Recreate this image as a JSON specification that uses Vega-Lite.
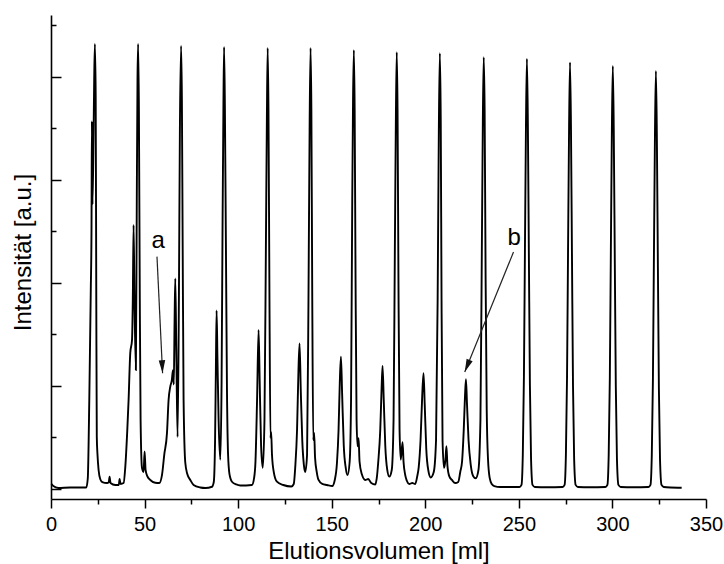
{
  "$schema": "https://vega.github.io/schema/vega-lite/v6.json",
  "width": 655,
  "height": 484,
  "autosize": {"type": "none"},
  "padding": {"left": 51, "top": 15, "right": 18, "bottom": 65},
  "background": "white",
  "config": {"view": {"stroke": null}, "font": "Liberation Sans"},
  "datasets": {
    "trace": [
      {"ml":0.16,"v":0.044},{"ml":1.23,"v":0.024},{"ml":3.9,"v":0.005},{"ml":10.31,"v":0.01},{"ml":18.86,"v":0.01},
      {"ml":19.66,"v":0.10},{"ml":20.46,"v":0.86},{"ml":21.26,"v":1.93},{"ml":21.64,"v":2.51},{"ml":21.85,"v":3.57},
      {"ml":22.17,"v":2.76},{"ml":22.71,"v":3.39},{"ml":23.08,"v":3.97},{"ml":23.45,"v":4.32},{"ml":23.88,"v":3.82},
      {"ml":24.2,"v":1.83},{"ml":24.47,"v":0.50},{"ml":24.84,"v":0.33},{"ml":25.43,"v":0.18},{"ml":26.34,"v":0.09},
      {"ml":27.41,"v":0.063},{"ml":29.92,"v":0.053},{"ml":30.88,"v":0.063},{"ml":31.31,"v":0.115},{"ml":31.79,"v":0.053},
      {"ml":34.35,"v":0.034},{"ml":36.22,"v":0.034},{"ml":36.65,"v":0.092},{"ml":37.19,"v":0.044},{"ml":38.79,"v":0.053},
      {"ml":39.7,"v":0.21},{"ml":40.77,"v":0.57},{"ml":41.46,"v":0.86},{"ml":42.37,"v":1.32},{"ml":43.28,"v":1.44},
      {"ml":43.71,"v":1.83},{"ml":44.13,"v":2.56},{"ml":44.61,"v":1.83},{"ml":45.36,"v":1.15},{"ml":45.84,"v":2.80},
      {"ml":46.22,"v":3.97},{"ml":46.54,"v":4.32},{"ml":46.97,"v":3.68},{"ml":47.45,"v":1.83},{"ml":47.87,"v":0.67},
      {"ml":48.62,"v":0.20},{"ml":49.47,"v":0.16},{"ml":50.01,"v":0.36},{"ml":50.54,"v":0.18},{"ml":51.45,"v":0.12},
      {"ml":53.05,"v":0.083},{"ml":55.72,"v":0.056},{"ml":57.86,"v":0.053},{"ml":59.30,"v":0.13},{"ml":60.53,"v":0.33},
      {"ml":61.98,"v":0.54},{"ml":62.83,"v":0.86},{"ml":63.74,"v":0.99},{"ml":64.54,"v":1.05},{"ml":65.18,"v":1.15},
      {"ml":65.61,"v":1.01},{"ml":66.04,"v":1.64},{"ml":66.41,"v":2.04},{"ml":66.95,"v":1.35},{"ml":67.64,"v":0.50},
      {"ml":68.34,"v":1.83},{"ml":68.87,"v":3.48},{"ml":69.51,"v":4.30},{"ml":69.94,"v":3.78},{"ml":70.37,"v":2.32},
      {"ml":70.85,"v":0.86},{"ml":71.76,"v":0.25},{"ml":72.83,"v":0.14},{"ml":74.43,"v":0.083},{"ml":76.19,"v":0.034},
      {"ml":79.77,"v":0.01},{"ml":82.44,"v":0.005},{"ml":86.02,"v":0.017},{"ml":86.98,"v":0.063},{"ml":87.67,"v":0.47},
      {"ml":88.10,"v":1.15},{"ml":88.48,"v":1.73},{"ml":88.96,"v":1.25},{"ml":89.55,"v":0.67},{"ml":90.46,"v":0.28},
      {"ml":91.16,"v":1.05},{"ml":91.69,"v":2.61},{"ml":92.12,"v":3.68},{"ml":92.48,"v":4.29},{"ml":92.91,"v":3.73},
      {"ml":93.45,"v":2.41},{"ml":94.03,"v":0.96},{"ml":94.62,"v":0.33},{"ml":95.37,"v":0.14},{"ml":96.70,"v":0.066},
      {"ml":99.0,"v":0.039},{"ml":101.13,"v":0.029},{"ml":107.39,"v":0.034},{"ml":108.51,"v":0.10},{"ml":109.26,"v":0.26},
      {"ml":110.11,"v":0.86},{"ml":110.92,"v":1.54},{"ml":111.50,"v":1.05},{"ml":112.25,"v":0.42},{"ml":113.16,"v":0.20},
      {"ml":114.07,"v":0.67},{"ml":114.82,"v":2.32},{"ml":115.35,"v":3.58},{"ml":115.78,"v":4.28},{"ml":116.21,"v":3.68},
      {"ml":116.74,"v":1.83},{"ml":117.28,"v":0.49},{"ml":117.65,"v":0.55},{"ml":118.08,"v":0.33},{"ml":119.04,"v":0.16},
      {"ml":120.75,"v":0.066},{"ml":124.11,"v":0.034},{"ml":128.39,"v":0.019},{"ml":129.72,"v":0.044},{"ml":130.52,"v":0.21},
      {"ml":131.48,"v":0.57},{"ml":132.23,"v":1.15},{"ml":132.82,"v":1.41},{"ml":133.46,"v":0.96},{"ml":134.26,"v":0.47},
      {"ml":135.12,"v":0.23},{"ml":135.87,"v":0.16},{"ml":136.83,"v":0.33},{"ml":137.58,"v":1.83},{"ml":138.22,"v":3.58},
      {"ml":138.70,"v":4.28},{"ml":139.13,"v":3.68},{"ml":139.61,"v":1.83},{"ml":140.14,"v":0.47},{"ml":140.62,"v":0.54},
      {"ml":141.10,"v":0.30},{"ml":142.01,"v":0.16},{"ml":142.97,"v":0.083},{"ml":144.95,"v":0.044},{"ml":147.46,"v":0.034},
      {"ml":150.29,"v":0.024},{"ml":151.63,"v":0.083},{"ml":152.81,"v":0.25},{"ml":153.66,"v":0.57},{"ml":154.35,"v":1.05},
      {"ml":154.94,"v":1.28},{"ml":155.58,"v":0.91},{"ml":156.43,"v":0.42},{"ml":157.50,"v":0.20},{"ml":158.46,"v":0.13},
      {"ml":159.59,"v":0.26},{"ml":160.33,"v":0.86},{"ml":160.97,"v":2.80},{"ml":161.40,"v":3.78},{"ml":161.83,"v":4.26},
      {"ml":162.26,"v":3.68},{"ml":162.74,"v":2.03},{"ml":163.28,"v":0.67},{"ml":163.81,"v":0.41},{"ml":164.35,"v":0.49},
      {"ml":164.88,"v":0.26},{"ml":166.06,"v":0.14},{"ml":167.92,"v":0.083},{"ml":169.53,"v":0.092},{"ml":171.13,"v":0.053},
      {"ml":173.27,"v":0.039},{"ml":174.07,"v":0.10},{"ml":174.87,"v":0.26},{"ml":175.94,"v":0.57},{"ml":176.63,"v":0.96},
      {"ml":177.17,"v":1.19},{"ml":177.81,"v":0.86},{"ml":178.61,"v":0.42},{"ml":179.68,"v":0.18},{"ml":180.75,"v":0.115},
      {"ml":182.08,"v":0.18},{"ml":183.05,"v":0.67},{"ml":183.74,"v":2.32},{"ml":184.28,"v":3.58},{"ml":184.75,"v":4.24},
      {"ml":185.18,"v":3.68},{"ml":185.66,"v":2.03},{"ml":186.25,"v":0.57},{"ml":186.89,"v":0.28},{"ml":187.85,"v":0.45},
      {"ml":188.38,"v":0.26},{"ml":189.29,"v":0.13},{"ml":190.20,"v":0.073},{"ml":191.43,"v":0.044},{"ml":193.03,"v":0.053},
      {"ml":194.64,"v":0.044},{"ml":195.71,"v":0.12},{"ml":196.51,"v":0.21},{"ml":197.47,"v":0.47},{"ml":198.38,"v":0.91},
      {"ml":199.07,"v":1.12},{"ml":199.71,"v":0.81},{"ml":200.51,"v":0.39},{"ml":201.58,"v":0.18},{"ml":202.92,"v":0.107},
      {"ml":204.52,"v":0.16},{"ml":205.75,"v":0.47},{"ml":206.60,"v":1.83},{"ml":207.24,"v":3.48},{"ml":207.78,"v":4.23},
      {"ml":208.26,"v":3.58},{"ml":208.69,"v":1.83},{"ml":209.22,"v":0.47},{"ml":210.02,"v":0.20},{"ml":210.77,"v":0.28},
      {"ml":211.31,"v":0.41},{"ml":211.84,"v":0.22},{"ml":212.80,"v":0.12},{"ml":214.24,"v":0.083},{"ml":216.0,"v":0.053},
      {"ml":217.61,"v":0.063},{"ml":218.68,"v":0.16},{"ml":219.64,"v":0.26},{"ml":220.55,"v":0.57},{"ml":221.25,"v":0.91},
      {"ml":221.73,"v":1.061},{"ml":222.31,"v":0.81},{"ml":223.12,"v":0.47},{"ml":224.29,"v":0.23},{"ml":225.63,"v":0.12},
      {"ml":226.96,"v":0.10},{"ml":228.41,"v":0.18},{"ml":229.47,"v":0.67},{"ml":230.22,"v":2.32},{"ml":230.76,"v":3.58},
      {"ml":231.23,"v":4.19},{"ml":231.71,"v":3.68},{"ml":232.24,"v":2.03},{"ml":232.83,"v":0.76},{"ml":233.53,"v":0.28},
      {"ml":234.44,"v":0.10},{"ml":235.51,"v":0.044},{"ml":236.85,"v":0.024},{"ml":240.05,"v":0.015},{"ml":245.0,"v":0.015},
      {"ml":250.31,"v":0.015},{"ml":251.41,"v":0.035},{"ml":252.11,"v":0.33},{"ml":252.71,"v":1.09},{"ml":253.24,"v":2.30},
      {"ml":253.81,"v":3.55},{"ml":254.31,"v":4.176},{"ml":254.81,"v":3.55},{"ml":255.38,"v":2.21},{"ml":255.91,"v":1.00},
      {"ml":256.51,"v":0.29},{"ml":257.31,"v":0.035},{"ml":258.51,"v":0.015},{"ml":265.0,"v":0.012},
      {"ml":273.34,"v":0.015},{"ml":274.44,"v":0.035},{"ml":275.14,"v":0.33},{"ml":275.74,"v":1.08},{"ml":276.27,"v":2.28},
      {"ml":276.84,"v":3.52},{"ml":277.34,"v":4.141},{"ml":277.84,"v":3.52},{"ml":278.41,"v":2.19},{"ml":278.94,"v":0.99},
      {"ml":279.54,"v":0.29},{"ml":280.34,"v":0.035},{"ml":281.54,"v":0.015},{"ml":288.0,"v":0.012},
      {"ml":296.21,"v":0.015},{"ml":297.31,"v":0.035},{"ml":298.01,"v":0.33},{"ml":298.61,"v":1.07},{"ml":299.14,"v":2.26},
      {"ml":299.71,"v":3.49},{"ml":300.21,"v":4.106},{"ml":300.71,"v":3.49},{"ml":301.28,"v":2.18},{"ml":301.81,"v":0.99},
      {"ml":302.41,"v":0.29},{"ml":303.21,"v":0.035},{"ml":304.41,"v":0.015},{"ml":311.0,"v":0.012},
      {"ml":319.23,"v":0.015},{"ml":320.33,"v":0.035},{"ml":321.03,"v":0.32},{"ml":321.63,"v":1.05},{"ml":322.16,"v":2.23},
      {"ml":322.73,"v":3.45},{"ml":323.23,"v":4.057},{"ml":323.73,"v":3.45},{"ml":324.30,"v":2.15},{"ml":324.83,"v":0.97},
      {"ml":325.43,"v":0.28},{"ml":326.23,"v":0.035},{"ml":327.43,"v":0.015},{"ml":331.0,"v":0.01},{"ml":337.0,"v":0.008}
    ],
    "arrows": [
      {"ml":56.63,"v":2.253,"ml2":59.62,"v2":1.12},
      {"ml":247.15,"v":2.298,"ml2":221.08,"v2":1.132}
    ],
    "headA": [{"ml":59.62,"v":1.12}],
    "headB": [{"ml":221.08,"v":1.132}],
    "labels": [
      {"ml":57.22,"v":2.337,"t":"a"},
      {"ml":247.53,"v":2.366,"t":"b"}
    ]
  },
  "layer": [
    {
      "data": {"name": "trace"},
      "mark": {"type": "line", "color": "black", "strokeWidth": 1.9, "interpolate": "monotone", "strokeJoin": "round"},
      "encoding": {
        "x": {
          "field": "ml", "type": "quantitative",
          "scale": {"domain": [0, 350], "nice": false, "zero": false},
          "axis": {
            "title": "Elutionsvolumen [ml]",
            "values": [0,25,50,75,100,125,150,175,200,225,250,275,300,325,350],
            "labelExpr": "datum.value % 50 === 0 ? datum.label : ''",
            "tickSize": {"condition": {"test": "datum.value % 50 === 0", "value": 9}, "value": 5},
            "tickColor": "black", "tickWidth": 1.5,
            "domainColor": "black", "domainWidth": 1.6,
            "grid": false,
            "labelFont": "Liberation Sans", "labelFontSize": 20, "labelColor": "black", "labelPadding": 6,
            "labelFlush": false, "labelOverlap": false,
            "titleFont": "Liberation Sans", "titleFontSize": 24, "titleFontWeight": "normal", "titleColor": "black",
            "titleBaseline": "alphabetic", "titleY": 59
          }
        },
        "y": {
          "field": "v", "type": "quantitative",
          "scale": {"domain": [-0.102, 4.601], "nice": false, "zero": false},
          "axis": {
            "title": "Intensität [a.u.]",
            "values": [0,0.5,1,1.5,2,2.5,3,3.5,4,4.5],
            "labels": false,
            "tickSize": {"condition": {"test": "datum.value % 1 === 0", "value": -10}, "value": -5},
            "tickColor": "black", "tickWidth": 1.5,
            "domainColor": "black", "domainWidth": 1.6,
            "grid": false,
            "titleFont": "Liberation Sans", "titleFontSize": 24, "titleFontWeight": "normal", "titleColor": "black",
            "titleBaseline": "alphabetic", "titleX": -21, "titleY": 237, "titleAngle": -90, "titleAlign": "center"
          }
        }
      }
    },
    {
      "data": {"name": "arrows"},
      "mark": {"type": "rule", "color": "#222222", "strokeWidth": 1.2},
      "encoding": {
        "x": {"field": "ml", "type": "quantitative"},
        "y": {"field": "v", "type": "quantitative"},
        "x2": {"field": "ml2"},
        "y2": {"field": "v2"}
      }
    },
    {
      "data": {"name": "headA"},
      "mark": {"type": "point", "shape": "M0,0L-0.5,-2L0.5,-2Z", "filled": true, "color": "#111111", "size": 169, "angle": -2.75, "opacity": 1, "strokeWidth": 0},
      "encoding": {
        "x": {"field": "ml", "type": "quantitative"},
        "y": {"field": "v", "type": "quantitative"}
      }
    },
    {
      "data": {"name": "headB"},
      "mark": {"type": "point", "shape": "M0,0L-0.5,-2L0.5,-2Z", "filled": true, "color": "#111111", "size": 169, "angle": 22.1, "opacity": 1, "strokeWidth": 0},
      "encoding": {
        "x": {"field": "ml", "type": "quantitative"},
        "y": {"field": "v", "type": "quantitative"}
      }
    },
    {
      "data": {"name": "labels"},
      "mark": {"type": "text", "font": "Liberation Sans", "fontSize": 24, "color": "black", "align": "center", "baseline": "alphabetic"},
      "encoding": {
        "x": {"field": "ml", "type": "quantitative"},
        "y": {"field": "v", "type": "quantitative"},
        "text": {"field": "t"}
      }
    }
  ]
}
